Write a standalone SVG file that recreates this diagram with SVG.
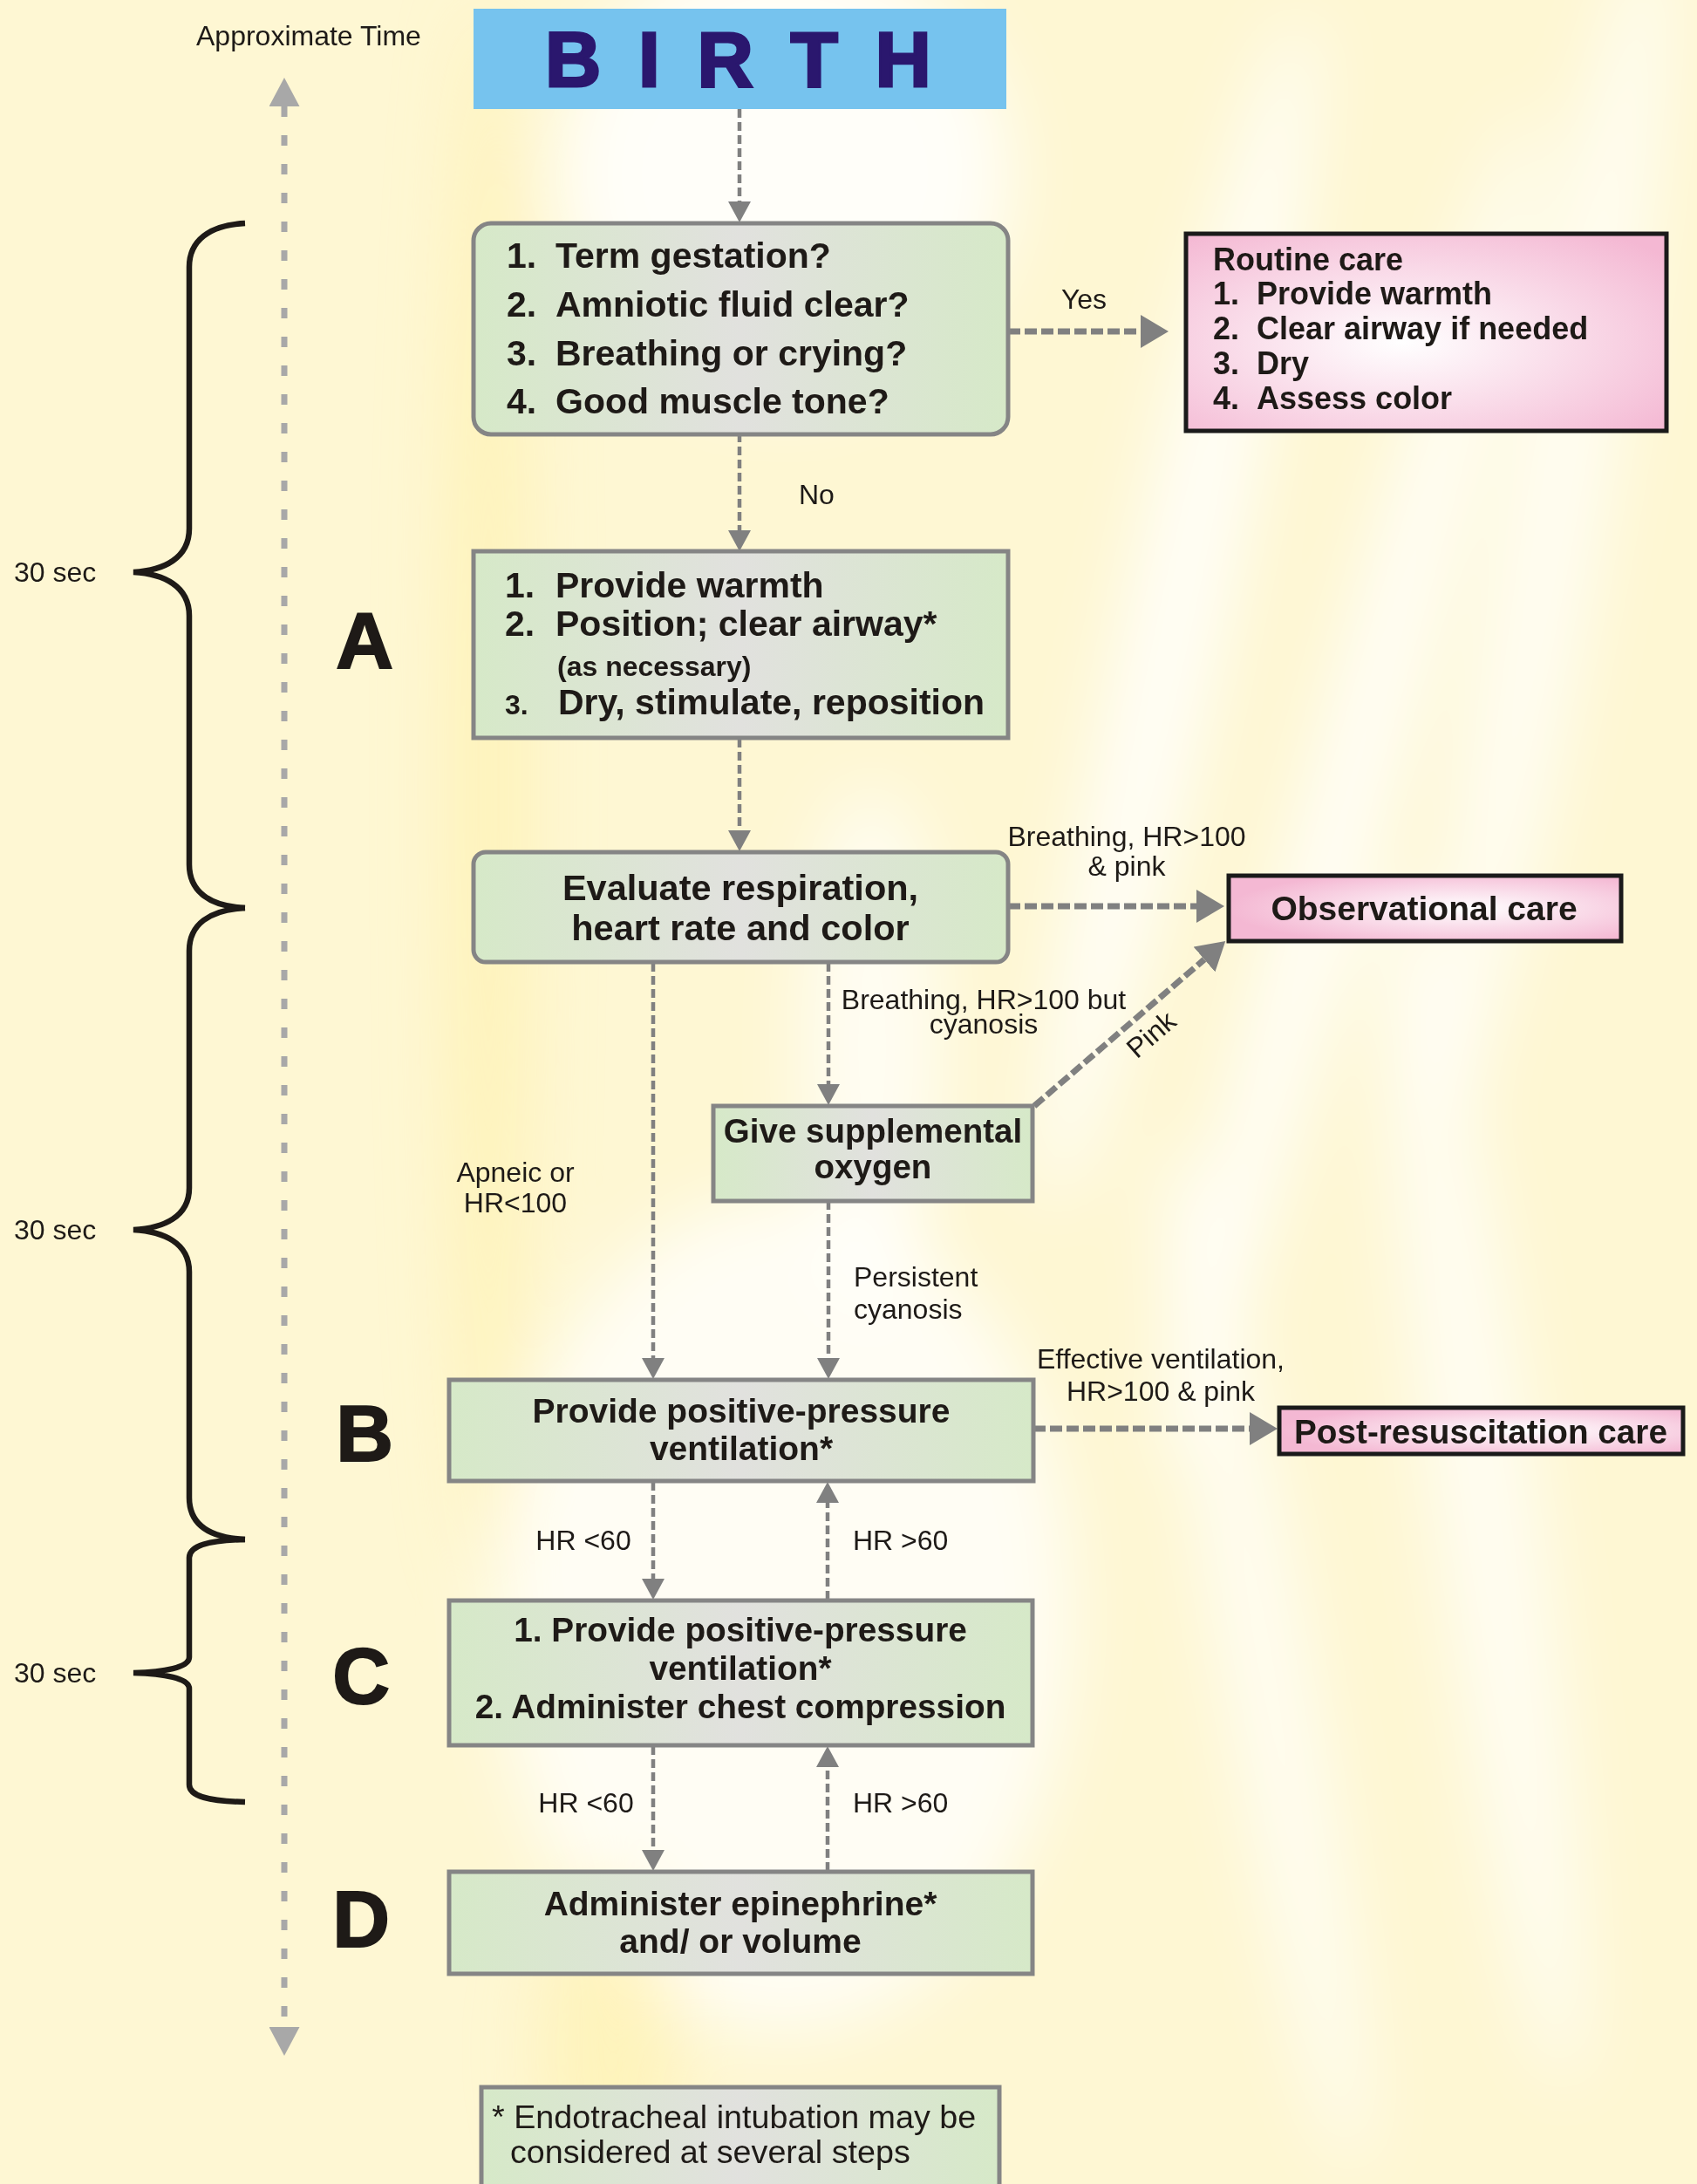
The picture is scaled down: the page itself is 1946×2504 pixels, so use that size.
<svg xmlns="http://www.w3.org/2000/svg" width="1946" height="2504" viewBox="0 0 1946 2504">
<defs>
<style>
.t{font-family:"Liberation Sans",Arial,Helvetica,sans-serif;fill:#1e1a17}
.b{font-weight:bold}
.lbl{font-size:32px}
.box{font-size:41px;font-weight:bold}
.g{fill:url(#gg);stroke:#858585;stroke-width:5}
.p{stroke:#1a1a1a;stroke-width:5}
.thin{fill:none;stroke:#808080;stroke-width:4.5;stroke-dasharray:10 5}
.thick{fill:none;stroke:#808080;stroke-width:7;stroke-dasharray:14 5}
.brace{fill:none;stroke:#1e1a17;stroke-width:6.5}
.big{font-size:91px;font-weight:bold;stroke:#1e1a17;stroke-width:2}
</style>
<linearGradient id="gg" x1="0" y1="0" x2="1" y2="0">
<stop offset="0" stop-color="#d6e9c8"/>
<stop offset="0.5" stop-color="#e1e1de"/>
<stop offset="1" stop-color="#d6e9c8"/>
</linearGradient>
<radialGradient id="pg" cx="0.45" cy="0.55" r="0.7">
<stop offset="0" stop-color="#ffffff"/>
<stop offset="1" stop-color="#f4b8d3"/>
</radialGradient>
<radialGradient id="pg2" cx="0.6" cy="0.5" r="0.6">
<stop offset="0" stop-color="#ffffff"/>
<stop offset="1" stop-color="#f4b8d3"/>
</radialGradient>
<filter id="blur" x="-50%" y="-50%" width="200%" height="200%"><feGaussianBlur stdDeviation="40"/></filter>
<marker id="ah" viewBox="0 0 24 26" markerWidth="24" markerHeight="26" refX="0" refY="13" orient="auto" markerUnits="userSpaceOnUse"><path d="M0,0 L24,13 L0,26 Z" fill="#808080"/></marker>
<marker id="ahb" viewBox="0 0 32 38" markerWidth="32" markerHeight="38" refX="0" refY="19" orient="auto" markerUnits="userSpaceOnUse"><path d="M0,0 L32,19 L0,38 Z" fill="#808080"/></marker>
<marker id="ta" viewBox="0 0 33 35" markerWidth="33" markerHeight="35" refX="0" refY="17.5" orient="auto-start-reverse" markerUnits="userSpaceOnUse"><path d="M0,0 L33,17.5 L0,35 Z" fill="#a8a8a8"/></marker>
</defs>

<g id="background">
<rect width="1946" height="2504" fill="#fef7d3"/>
<g filter="url(#blur)">
<ellipse cx="900" cy="200" rx="260" ry="260" fill="#ffffff" opacity="0.85"/>
<ellipse cx="560" cy="900" rx="45" ry="900" fill="#fff0a6" opacity="0.6"/>
<ellipse cx="1350" cy="700" rx="60" ry="700" fill="#ffffff" opacity="0.8" transform="rotate(12 1350 700)"/>
<ellipse cx="1550" cy="900" rx="50" ry="800" fill="#ffffff" opacity="0.8" transform="rotate(15 1550 900)"/>
<ellipse cx="1780" cy="600" rx="60" ry="700" fill="#ffffff" opacity="0.7" transform="rotate(10 1780 600)"/>
<ellipse cx="1700" cy="1700" rx="60" ry="700" fill="#ffffff" opacity="0.7" transform="rotate(-8 1700 1700)"/>
<ellipse cx="1450" cy="1900" rx="50" ry="600" fill="#ffffff" opacity="0.7" transform="rotate(-10 1450 1900)"/>
<ellipse cx="900" cy="1850" rx="330" ry="480" fill="#ffffff" opacity="0.75"/>
<ellipse cx="1000" cy="1200" rx="80" ry="300" fill="#ffffff" opacity="0.7"/>
<ellipse cx="700" cy="2350" rx="80" ry="200" fill="#fff0a6" opacity="0.5"/>
</g>
</g>

<g id="timeline">
<path d="M326,122 L326,2324" fill="none" stroke="#a8a8a8" stroke-width="7" stroke-dasharray="12 21" marker-start="url(#ta)" marker-end="url(#ta)"/>
<text class="t" x="225" y="52" font-size="32">Approximate Time</text>
</g>

<g id="braces">
<path class="brace" d="M281,256 C240,258 217,276 217,306 L217,606 C217,640 188,654 153,656 C188,658 217,672 217,706 L217,991 C217,1022 240,1039 281,1041"/>
<path class="brace" d="M281,1041 C240,1043 217,1060 217,1090 L217,1362 C217,1395 188,1408 153,1410 C188,1412 217,1425 217,1458 L217,1717 C217,1748 240,1763 281,1765"/>
<path class="brace" d="M281,1765 C240,1766 217,1772 217,1786 L217,1900 C217,1912 188,1917 153,1918 C188,1919 217,1924 217,1936 L217,2046 C217,2060 240,2065 281,2066"/>
<text class="t" x="16" y="667" font-size="32">30 sec</text>
<text class="t" x="16" y="1421" font-size="32">30 sec</text>
<text class="t" x="16" y="1929" font-size="32">30 sec</text>
</g>

<g id="stage-letters">
<text class="t big" x="418" y="766" text-anchor="middle">A</text>
<text class="t big" x="418" y="1675" text-anchor="middle">B</text>
<text class="t big" x="414" y="1953" text-anchor="middle">C</text>
<text class="t big" x="414" y="2232" text-anchor="middle">D</text>
</g>

<g id="connectors">
<path class="thin" d="M848,125 L848,231" marker-end="url(#ah)"/>
<path class="thick" d="M1156,380 L1308,380" marker-end="url(#ahb)"/>
<path class="thin" d="M848,497 L848,608" marker-end="url(#ah)"/>
<path class="thin" d="M848,847 L848,952" marker-end="url(#ah)"/>
<path class="thick" d="M1156,1039 L1372,1039" marker-end="url(#ahb)"/>
<path class="thin" d="M950,1104 L950,1243" marker-end="url(#ah)"/>
<path class="thick" d="M1186,1268 L1381,1100" marker-end="url(#ahb)"/>
<path class="thin" d="M749,1104 L749,1557" marker-end="url(#ah)"/>
<path class="thin" d="M950,1377 L950,1557" marker-end="url(#ah)"/>
<path class="thick" d="M1185,1638 L1433,1638" marker-end="url(#ahb)"/>
<path class="thin" d="M749,1699 L749,1810" marker-end="url(#ah)"/>
<path class="thin" d="M949,1834 L949,1723" marker-end="url(#ah)"/>
<path class="thin" d="M749,2002 L749,2121" marker-end="url(#ah)"/>
<path class="thin" d="M949,2145 L949,2026" marker-end="url(#ah)"/>
<text class="t lbl" x="1243" y="354" text-anchor="middle">Yes</text>
<text class="t lbl" x="916" y="578">No</text>
<text class="t lbl" x="1292" y="970" text-anchor="middle">Breathing, HR&gt;100</text>
<text class="t lbl" x="1292" y="1004" text-anchor="middle">&amp; pink</text>
<text class="t lbl" x="1128" y="1157" text-anchor="middle">Breathing, HR&gt;100 but</text>
<text class="t lbl" x="1128" y="1185" text-anchor="middle">cyanosis</text>
<text class="t lbl" x="1320" y="1197" text-anchor="middle" transform="rotate(-41 1320 1186)">Pink</text>
<text class="t lbl" x="591" y="1355" text-anchor="middle">Apneic or</text>
<text class="t lbl" x="591" y="1390" text-anchor="middle">HR&lt;100</text>
<text class="t lbl" x="979" y="1475">Persistent</text>
<text class="t lbl" x="979" y="1512">cyanosis</text>
<text class="t lbl" x="1331" y="1569" text-anchor="middle">Effective ventilation,</text>
<text class="t lbl" x="1331" y="1606" text-anchor="middle">HR&gt;100 &amp; pink</text>
<text class="t lbl" x="669" y="1777" text-anchor="middle">HR &lt;60</text>
<text class="t lbl" x="978" y="1777">HR &gt;60</text>
<text class="t lbl" x="672" y="2078" text-anchor="middle">HR &lt;60</text>
<text class="t lbl" x="978" y="2078">HR &gt;60</text>
</g>

<g id="birth">
<rect x="543" y="10" width="611" height="115" fill="#76c3ee"/>
<text x="625" y="99" font-family="'Liberation Sans',Arial,sans-serif" font-weight="bold" font-size="89" fill="#2a176e" stroke="#2a176e" stroke-width="3" letter-spacing="9">B I R T H</text>
</g>

<g id="initial-assessment">
<rect class="g" x="543" y="256" width="613" height="242" rx="20"/>
<text class="t box"><tspan x="581" y="307">1.</tspan><tspan x="637" y="307">Term gestation?</tspan><tspan x="581" y="363">2.</tspan><tspan x="637" y="363">Amniotic fluid clear?</tspan><tspan x="581" y="419">3.</tspan><tspan x="637" y="419">Breathing or crying?</tspan><tspan x="581" y="474">4.</tspan><tspan x="637" y="474">Good muscle tone?</tspan></text>
</g>

<g id="routine-care">
<rect class="p" x="1360" y="268" width="551" height="226" fill="url(#pg)"/>
<text class="t b" font-size="36"><tspan x="1391" y="310">Routine care</tspan><tspan x="1391" y="349">1.</tspan><tspan x="1441" y="349">Provide warmth</tspan><tspan x="1391" y="389">2.</tspan><tspan x="1441" y="389">Clear airway if needed</tspan><tspan x="1391" y="429">3.</tspan><tspan x="1441" y="429">Dry</tspan><tspan x="1391" y="469">4.</tspan><tspan x="1441" y="469">Assess color</tspan></text>
</g>

<g id="step-a">
<rect class="g" x="543" y="632" width="613" height="214"/>
<text class="t box"><tspan x="579" y="685">1.</tspan><tspan x="637" y="685">Provide warmth</tspan><tspan x="579" y="729">2.</tspan><tspan x="637" y="729">Position; clear airway*</tspan></text>
<text class="t b" x="639" y="775" font-size="32">(as necessary)</text>
<text class="t b" x="579" y="819" font-size="32">3.</text>
<text class="t box" x="640" y="819">Dry, stimulate, reposition</text>
</g>

<g id="evaluate">
<rect class="g" x="543" y="977" width="613" height="126" rx="14"/>
<text class="t b" font-size="41.5" text-anchor="middle"><tspan x="849" y="1032">Evaluate respiration,</tspan><tspan x="849" y="1078">heart rate and color</tspan></text>
</g>

<g id="observational-care">
<rect class="p" x="1409" y="1004" width="450" height="75" fill="url(#pg2)"/>
<text class="t b" x="1633" y="1055" font-size="39" text-anchor="middle">Observational care</text>
</g>

<g id="supplemental-oxygen">
<rect class="g" x="818" y="1268" width="366" height="109"/>
<text class="t b" font-size="38.5" text-anchor="middle"><tspan x="1001" y="1310">Give supplemental</tspan><tspan x="1001" y="1351">oxygen</tspan></text>
</g>

<g id="step-b">
<rect class="g" x="515" y="1582" width="670" height="116"/>
<text class="t b" font-size="39" text-anchor="middle"><tspan x="850" y="1631">Provide positive-pressure</tspan><tspan x="850" y="1674">ventilation*</tspan></text>
</g>

<g id="post-resuscitation">
<rect class="p" x="1467" y="1614" width="463" height="53" fill="url(#pg2)"/>
<text class="t b" x="1698" y="1655" font-size="38.7" text-anchor="middle">Post-resuscitation care</text>
</g>

<g id="step-c">
<rect class="g" x="515" y="1835" width="669" height="166"/>
<text class="t b" font-size="38.8" text-anchor="middle"><tspan x="849" y="1882">1. Provide positive-pressure</tspan><tspan x="849" y="1926">ventilation*</tspan><tspan x="849" y="1970">2. Administer chest compression</tspan></text>
</g>

<g id="step-d">
<rect class="g" x="515" y="2146" width="669" height="117"/>
<text class="t b" font-size="39" text-anchor="middle"><tspan x="849" y="2196">Administer epinephrine*</tspan><tspan x="849" y="2239">and/ or volume</tspan></text>
</g>

<g id="footnote">
<rect class="g" x="552" y="2393" width="594" height="140"/>
<text class="t" font-size="37.7"><tspan x="564" y="2440">* Endotracheal intubation may be</tspan><tspan x="585" y="2480">considered at several steps</tspan></text>
</g>
</svg>
